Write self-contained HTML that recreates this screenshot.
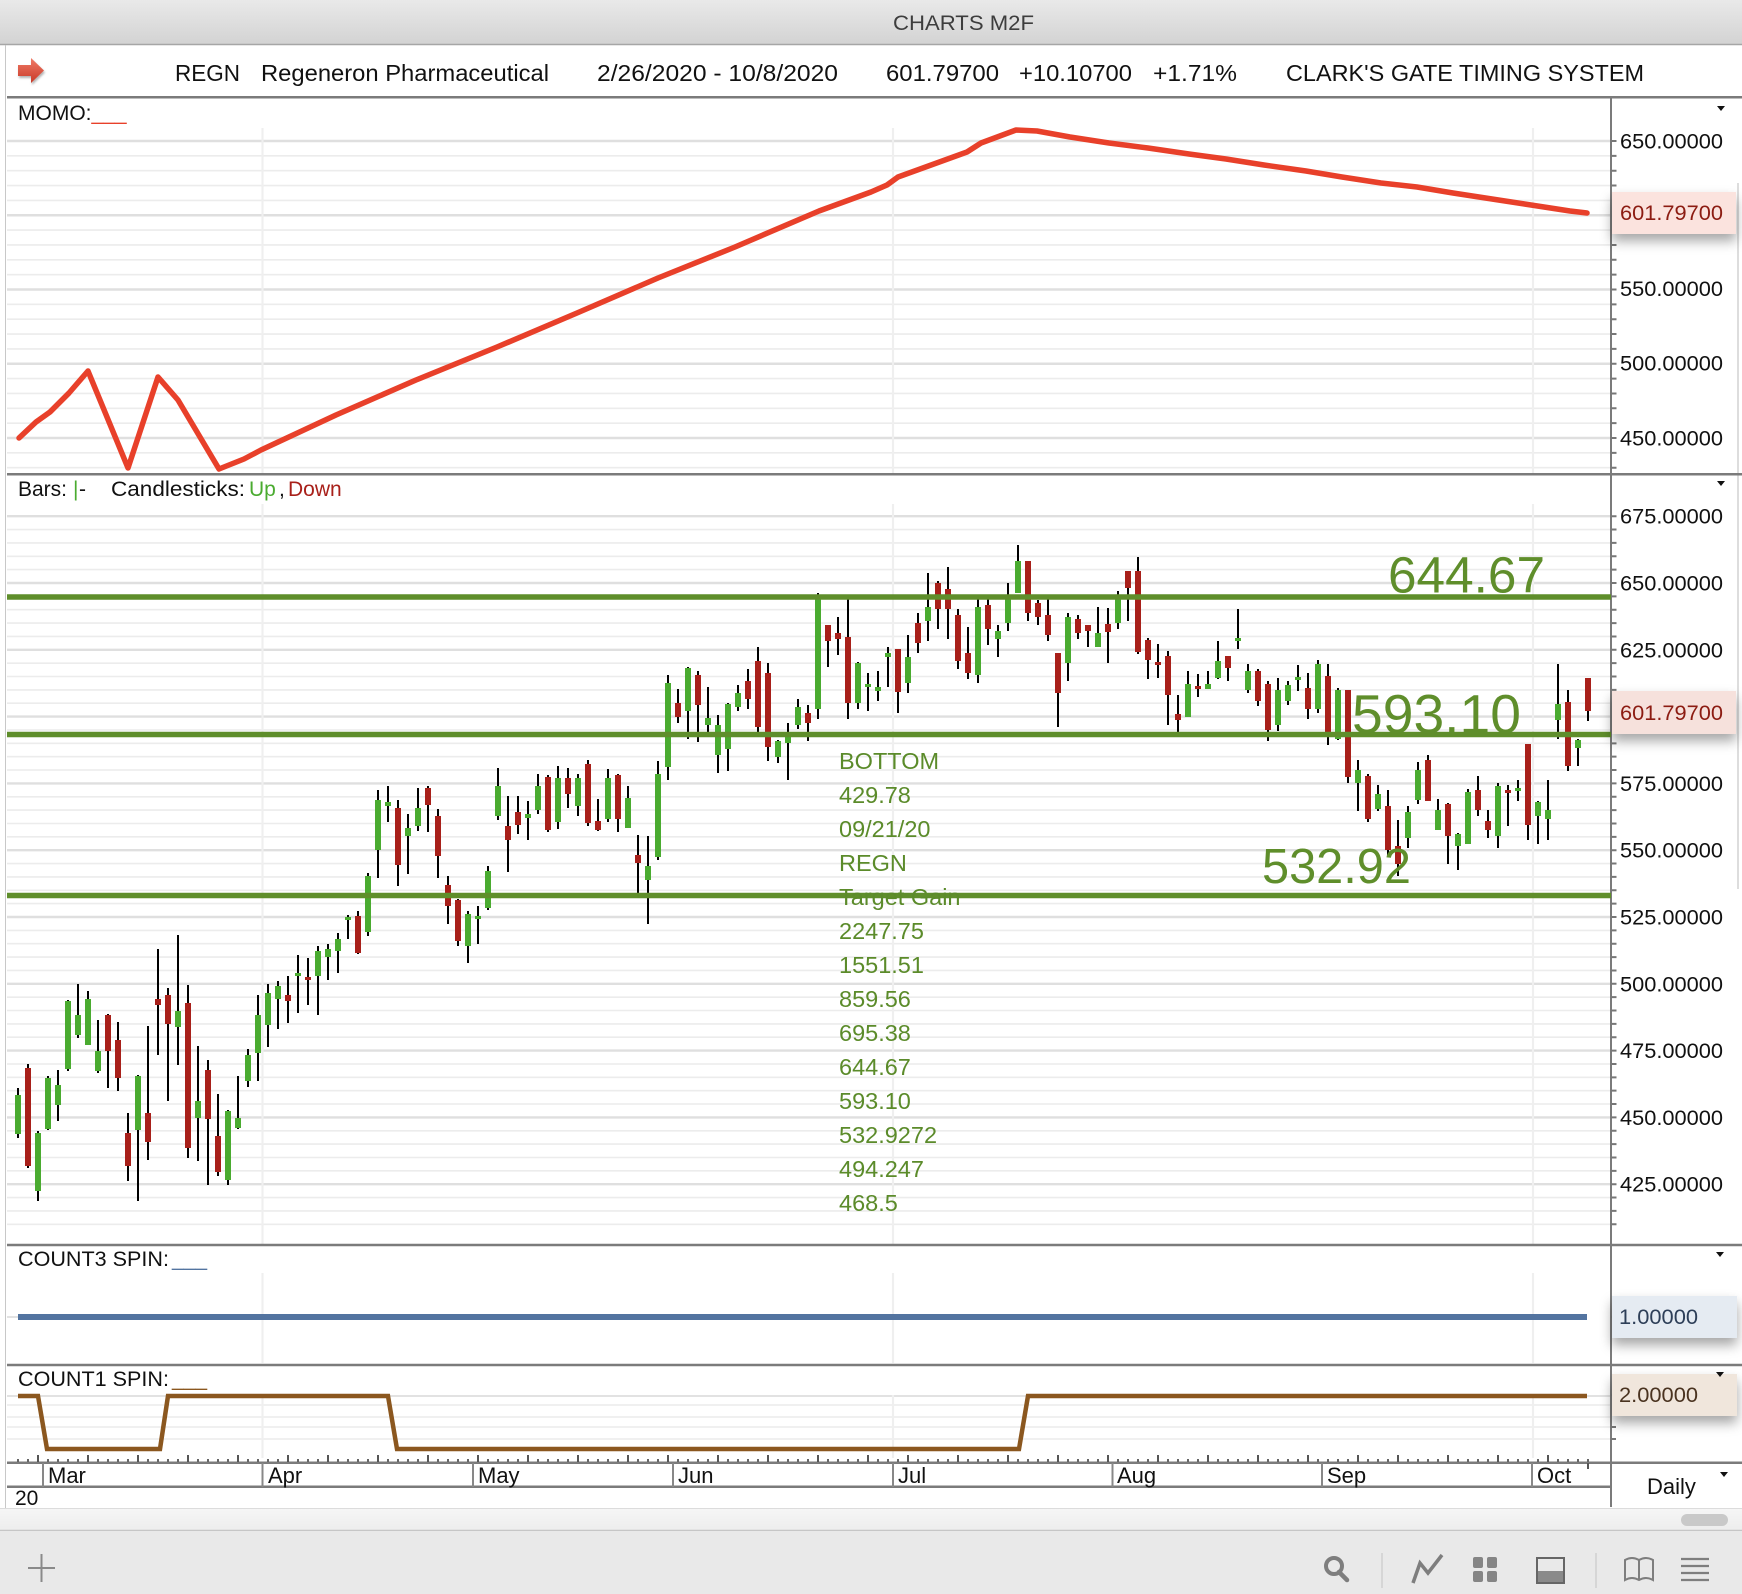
<!DOCTYPE html>
<html><head><meta charset="utf-8"><title>CHARTS M2F</title>
<style>
html,body{margin:0;padding:0;background:#fff;}
svg{display:block;}
text{font-family:"Liberation Sans",Arial,Helvetica,sans-serif;}
</style></head>
<body>
<svg xmlns="http://www.w3.org/2000/svg" width="1742" height="1594" viewBox="0 0 1742 1594">
<defs>
<linearGradient id="tb" x1="0" y1="0" x2="0" y2="1"><stop offset="0" stop-color="#e9e9e9"/><stop offset="1" stop-color="#d3d3d3"/></linearGradient>
<linearGradient id="arw" x1="0" y1="0" x2="0" y2="1"><stop offset="0" stop-color="#f07a66"/><stop offset="1" stop-color="#c83a28"/></linearGradient>
<linearGradient id="trk" x1="0" y1="0" x2="0" y2="1"><stop offset="0" stop-color="#f6f6f6"/><stop offset="1" stop-color="#ededed"/></linearGradient>
<filter id="sh" x="-10%" y="-40%" width="120%" height="220%"><feDropShadow dx="0" dy="7" stdDeviation="6" flood-color="#000" flood-opacity="0.35"/></filter>
<filter id="ash" x="-20%" y="-20%" width="150%" height="150%"><feDropShadow dx="1" dy="2" stdDeviation="1" flood-color="#000" flood-opacity="0.3"/></filter>
</defs>

<rect x="0" y="0" width="1742" height="1594" fill="#fff"/>

<!-- title bar -->
<rect x="0" y="0" width="1742" height="44" fill="url(#tb)"/>
<line x1="0" y1="44.5" x2="1742" y2="44.5" stroke="#a6a6a6" stroke-width="1.5"/>
<text x="893" y="30" font-size="21.5" fill="#3d3d3d" textLength="141" lengthAdjust="spacingAndGlyphs">CHARTS M2F</text>

<!-- left window edge -->
<line x1="5.5" y1="45" x2="5.5" y2="1508" stroke="#c8c8c8" stroke-width="1"/>
<line x1="1738" y1="183" x2="1738" y2="889" stroke="#d2d2d2" stroke-width="1.5"/>

<!-- header row -->
<polygon points="18,65 31,65 31,58 44,70.5 31,83 31,76 18,76" fill="url(#arw)" filter="url(#ash)"/>
<g font-size="23.5" fill="#111">
<text x="175" y="81" textLength="65" lengthAdjust="spacingAndGlyphs">REGN</text>
<text x="261" y="81" textLength="288" lengthAdjust="spacingAndGlyphs">Regeneron Pharmaceutical</text>
<text x="597" y="81" textLength="241" lengthAdjust="spacingAndGlyphs">2/26/2020 - 10/8/2020</text>
<text x="886" y="81" textLength="113" lengthAdjust="spacingAndGlyphs">601.79700</text>
<text x="1019" y="81" textLength="113" lengthAdjust="spacingAndGlyphs">+10.10700</text>
<text x="1153" y="81" textLength="84" lengthAdjust="spacingAndGlyphs">+1.71%</text>
<text x="1286" y="81" textLength="358" lengthAdjust="spacingAndGlyphs">CLARK'S GATE TIMING SYSTEM</text>
</g>

<!-- ===== gridlines ===== -->
<!-- momo minor -->
<path d="M7 155.85H1611M7 170.7H1611M7 185.55H1611M7 200.4H1611M7 230.1H1611M7 244.95H1611M7 259.8H1611M7 274.65H1611M7 304.35H1611M7 319.2H1611M7 334.05H1611M7 348.9H1611M7 378.6H1611M7 393.45H1611M7 408.3H1611M7 423.15H1611M7 452.85H1611M7 467.7H1611" stroke="#ececec" stroke-width="1.6" fill="none"/>
<path d="M7 141H1611M7 215.25H1611M7 289.5H1611M7 363.75H1611M7 438H1611" stroke="#dfdfdf" stroke-width="2.4" fill="none"/>
<!-- candle minor -->
<path d="M7 529.6H1611M7 542.9H1611M7 556.3H1611M7 569.6H1611M7 596.4H1611M7 609.7H1611M7 623.1H1611M7 636.4H1611M7 663.2H1611M7 676.5H1611M7 689.9H1611M7 703.2H1611M7 730H1611M7 743.3H1611M7 756.7H1611M7 770H1611M7 796.8H1611M7 810.1H1611M7 823.5H1611M7 836.8H1611M7 863.6H1611M7 876.9H1611M7 890.3H1611M7 903.6H1611M7 930.4H1611M7 943.7H1611M7 957.1H1611M7 970.4H1611M7 997.2H1611M7 1010.5H1611M7 1023.9H1611M7 1037.2H1611M7 1064H1611M7 1077.3H1611M7 1090.7H1611M7 1104H1611M7 1130.8H1611M7 1144.1H1611M7 1157.5H1611M7 1170.8H1611M7 1197.6H1611M7 1210.9H1611M7 1224.3H1611" stroke="#ececec" stroke-width="1.6" fill="none"/>
<path d="M7 516.2H1611M7 583H1611M7 649.8H1611M7 716.6H1611M7 783.4H1611M7 850.2H1611M7 917H1611M7 983.8H1611M7 1050.6H1611M7 1117.4H1611M7 1184.2H1611" stroke="#dfdfdf" stroke-width="2.4" fill="none"/>
<!-- count1 grid -->
<path d="M7 1405H1611M7 1417H1611M7 1427H1611M7 1439H1611" stroke="#ececec" stroke-width="1.6" fill="none"/>
<path d="M7 1396H1611M7 1317H18" stroke="#e2e2e2" stroke-width="2" fill="none"/>
<!-- vertical quarter grid -->
<path d="M262.5 128V473M893 128V473M1533 128V473M262.5 504V1244M893 504V1244M1533 504V1244M262.5 1273V1363M893 1273V1363M1533 1273V1363M262.5 1395V1458M893 1395V1458M1533 1395V1458" stroke="#efefef" stroke-width="2.2" fill="none"/>

<!-- ===== panel borders ===== -->
<g stroke="#7b7b7b" stroke-width="2.5" fill="none">
<path d="M7 97.2H1742"/>
<path d="M7 474.3H1742"/>
<path d="M7 1245H1742"/>
<path d="M7 1365H1742"/>
<path d="M7 1462.7H1742"/>
<path d="M7 1486.7H1611"/>
</g>
<line x1="1611" y1="98" x2="1611" y2="1507" stroke="#7b7b7b" stroke-width="2"/>
<!-- axis ticks -->
<line x1="1614" y1="140" x2="1614" y2="469" stroke="#777" stroke-width="5" stroke-dasharray="2 12.85"/>
<line x1="1614" y1="515.2" x2="1614" y2="1226" stroke="#777" stroke-width="5" stroke-dasharray="2 11.36"/>
<path d="M1611 1317h5M1611 1395h5M1611 1427h5M1611 1439h5" stroke="#777" stroke-width="2"/>

<!-- ===== MOMO ===== -->
<text x="18" y="120" font-size="21" fill="#111">MOMO:<tspan fill="#e8402a">___</tspan></text>
<path d="M19 438L36 422L50 412L69 393L88 371L128 468L158 377L178 400L219 469L244 459L261 450L336 415L416 380L497 347L577 313L658 278L735 247L819 211L871 192L887 185L898 177L967 152L981 143L1016 130L1037 131L1070 137L1109 143L1148 148L1189 154L1226 159L1264 165L1306 171L1342 177L1381 183L1417 187L1453 193L1492 199L1531 205L1570 211L1587 213" stroke="#e8402a" stroke-width="5.5" fill="none" stroke-linejoin="round" stroke-linecap="round"/>
<g font-size="21.5" fill="#111">
<text x="1620" y="148.5" textLength="103" lengthAdjust="spacingAndGlyphs">650.00000</text>
<text x="1620" y="296" textLength="103" lengthAdjust="spacingAndGlyphs">550.00000</text>
<text x="1620" y="370.5" textLength="103" lengthAdjust="spacingAndGlyphs">500.00000</text>
<text x="1620" y="445.5" textLength="103" lengthAdjust="spacingAndGlyphs">450.00000</text>
</g>
<rect x="1612" y="192" width="124" height="42" fill="#fbe3de" filter="url(#sh)"/>
<text x="1620" y="220" font-size="21.5" fill="#8c1c12" textLength="103" lengthAdjust="spacingAndGlyphs">601.79700</text>
<polygon points="1717,106 1725,106 1721,111" fill="#111"/>

<!-- ===== CANDLES ===== -->
<text x="18" y="496" font-size="21" fill="#111">Bars:</text>
<text x="73" y="496" font-size="21" fill="#4aab30">|</text>
<text x="79" y="496" font-size="21" fill="#111">-</text>
<text x="111" y="496" font-size="21" fill="#111" textLength="134" lengthAdjust="spacingAndGlyphs">Candlesticks:</text>
<text x="249" y="496" font-size="21" fill="#4aab30">Up</text>
<text x="279" y="496" font-size="21" fill="#111">,</text>
<text x="288" y="496" font-size="21" fill="#a8201a">Down</text>

<path stroke="#000" stroke-width="2" fill="none" d="M18 1088V1138M28 1064V1168M38 1131V1201M48 1076V1130M58 1070V1121M68 1000V1071M78 984V1038M88 991V1045M98 1020V1073M108 1014V1088M118 1022V1091M128 1113V1181M138 1075V1201M148 1026V1160M158 949V1055M168 988V1101M178 935V1065M188 985V1158M198 1046V1161M208 1060V1185M218 1094V1176M228 1110V1185M238 1076V1129M248 1049V1087M258 995V1081M268 984V1047M278 981V1029M288 976V1023M298 955V1013M308 958V1005M318 946V1015M328 944V980M338 933V973M348 915V939M358 911V954M368 873V936M378 790V878M388 786V822M398 800V886M408 814V874M418 788V831M428 786V832M438 809V878M448 876V924M458 899V946M468 911V963M478 906V944M488 866V910M498 768V820M508 796V872M518 796V834M528 801V840M538 774V814M548 775V832M558 766V829M568 768V808M578 774V816M588 760V826M598 799V831M608 769V822M618 774V832M628 786V828M638 835V893M648 836V924M658 761V860M668 675V780M678 689V723M688 667V739M698 671V742M708 687V732M718 715V773M728 703V771M738 685V711M748 669V709M758 647V732M768 663V761M778 740V763M788 723V780M798 699V729M808 705V741M818 593V719M828 625V667M838 617V655M848 598V719M858 662V709M868 673V711M878 671V701M888 647V687M898 649V713M908 635V693M918 613V653M928 573V641M938 581V629M948 567V639M958 609V669M968 627V679M978 599V683M988 599V645M998 625V657M1008 583V631M1018 545V593M1028 561V621M1038 600V625M1048 599V641M1058 653V727M1068 613V681M1078 615V639M1088 625V647M1098 607V647M1108 608V663M1118 591V629M1128 571V621M1138 557V654M1148 638V679M1158 644V678M1168 651V725M1178 695V732M1188 671V717M1198 674V697M1208 671V689M1218 641V679M1228 656V681M1238 609V649M1248 664V693M1258 669V706M1268 681V741M1278 678V731M1288 681V705M1298 665V691M1308 673V719M1318 660V713M1328 664V745M1338 688V740M1348 690V783M1358 760V811M1368 774V822M1378 785V811M1388 790V855M1398 820V876M1408 806V848M1418 762V804M1428 755V801M1438 799V830M1448 803V864M1458 833V870M1468 789V844M1478 776V816M1488 810V838M1498 783V848M1508 785V826M1518 780V801M1528 744V840M1538 801V844M1548 780V840M1558 664V739M1568 690V771M1578 739V766M1588 678V721"/>

<path fill="#4aab30" d="M15 1095h6V1134h-6zM35 1133h6V1191h-6zM45 1078h6V1129h-6zM55 1085h6V1105h-6zM65 1001h6V1069h-6zM75 1015h6V1035h-6zM85 999h6V1045h-6zM95 1051h6V1071h-6zM135 1076h6V1130h-6zM175 1011h6V1027h-6zM195 1101h6V1118h-6zM225 1111h6V1180h-6zM235 1118h6V1128h-6zM245 1055h6V1081h-6zM255 1015h6V1053h-6zM265 993h6V1025h-6zM275 986h6V999h-6zM295 973h6V976h-6zM315 951h6V976h-6zM325 949h6V957h-6zM335 939h6V951h-6zM345 917h6V920h-6zM365 876h6V932h-6zM375 800h6V850h-6zM385 802h6V806h-6zM405 828h6V836h-6zM415 808h6V826h-6zM465 914h6V946h-6zM475 916h6V919h-6zM485 871h6V908h-6zM495 786h6V816h-6zM525 814h6V818h-6zM535 786h6V810h-6zM555 778h6V822h-6zM575 778h6V806h-6zM605 778h6V819h-6zM625 798h6V828h-6zM645 866h6V880h-6zM655 774h6V857h-6zM665 683h6V767h-6zM685 668h6V711h-6zM705 718h6V725h-6zM715 725h6V755h-6zM725 704h6V749h-6zM735 693h6V707h-6zM775 741h6V757h-6zM785 737h6V743h-6zM795 707h6V725h-6zM815 597h6V709h-6zM855 663h6V703h-6zM865 684h6V687h-6zM875 687h6V691h-6zM885 653h6V657h-6zM905 657h6V683h-6zM925 607h6V621h-6zM975 607h6V675h-6zM995 631h6V639h-6zM1005 599h6V623h-6zM1015 561h6V593h-6zM1065 617h6V663h-6zM1095 633h6V647h-6zM1115 599h6V623h-6zM1185 684h6V717h-6zM1205 684h6V689h-6zM1215 661h6V678h-6zM1235 638h6V641h-6zM1245 671h6V690h-6zM1275 690h6V725h-6zM1285 685h6V701h-6zM1295 677h6V680h-6zM1315 664h6V709h-6zM1335 690h6V739h-6zM1355 770h6V783h-6zM1375 794h6V809h-6zM1405 812h6V838h-6zM1415 770h6V800h-6zM1435 810h6V830h-6zM1455 834h6V846h-6zM1465 792h6V844h-6zM1495 786h6V836h-6zM1515 788h6V791h-6zM1535 802h6V816h-6zM1545 810h6V819h-6zM1555 704h6V720h-6zM1575 740h6V748h-6z"/>

<path fill="#a8201a" d="M25 1068h6V1166h-6zM105 1015h6V1051h-6zM115 1040h6V1078h-6zM125 1133h6V1166h-6zM145 1113h6V1142h-6zM155 999h6V1005h-6zM165 995h6V1024h-6zM185 1003h6V1148h-6zM205 1070h6V1119h-6zM215 1136h6V1172h-6zM285 995h6V1001h-6zM305 977h6V980h-6zM355 916h6V953h-6zM395 808h6V865h-6zM425 788h6V805h-6zM435 816h6V856h-6zM445 885h6V906h-6zM455 900h6V941h-6zM505 826h6V840h-6zM515 812h6V825h-6zM545 777h6V830h-6zM565 778h6V794h-6zM585 764h6V823h-6zM595 821h6V830h-6zM615 775h6V819h-6zM635 855h6V863h-6zM675 703h6V717h-6zM695 675h6V705h-6zM745 681h6V699h-6zM755 661h6V727h-6zM765 673h6V747h-6zM805 713h6V723h-6zM825 625h6V641h-6zM835 633h6V639h-6zM845 637h6V703h-6zM895 649h6V692h-6zM915 623h6V643h-6zM935 583h6V609h-6zM945 589h6V609h-6zM955 615h6V661h-6zM965 653h6V673h-6zM985 605h6V629h-6zM1025 561h6V613h-6zM1035 603h6V617h-6zM1045 615h6V635h-6zM1055 653h6V693h-6zM1075 619h6V633h-6zM1085 625h6V631h-6zM1105 624h6V632h-6zM1125 571h6V588h-6zM1135 571h6V652h-6zM1145 640h6V660h-6zM1155 662h6V665h-6zM1165 656h6V695h-6zM1175 714h6V720h-6zM1195 686h6V689h-6zM1225 656h6V668h-6zM1255 671h6V701h-6zM1265 684h6V730h-6zM1305 688h6V709h-6zM1325 676h6V733h-6zM1345 690h6V777h-6zM1365 776h6V819h-6zM1385 806h6V850h-6zM1395 846h6V864h-6zM1425 760h6V801h-6zM1445 804h6V836h-6zM1475 790h6V810h-6zM1485 821h6V830h-6zM1505 790h6V793h-6zM1525 744h6V825h-6zM1565 702h6V766h-6zM1585 678h6V711h-6z"/>

<!-- level lines -->
<path d="M7 597H1611M7 734.5H1611M7 895.5H1611" stroke="#5f8e2b" stroke-width="5.5" fill="none"/>

<!-- level labels -->
<g fill="#5f8e2b">
<text x="1388" y="592.5" font-size="51" textLength="157" lengthAdjust="spacingAndGlyphs">644.67</text>
<text x="1352" y="733" font-size="55" textLength="169" lengthAdjust="spacingAndGlyphs">593.10</text>
<text x="1262" y="883" font-size="49" textLength="149" lengthAdjust="spacingAndGlyphs">532.92</text>
</g>
<g fill="#5b8b2a" font-size="23.5">
<text x="839" y="769">BOTTOM</text>
<text x="839" y="803">429.78</text>
<text x="839" y="837">09/21/20</text>
<text x="839" y="871">REGN</text>
<text x="839" y="905">Target Gain</text>
<text x="839" y="939">2247.75</text>
<text x="839" y="973">1551.51</text>
<text x="839" y="1007">859.56</text>
<text x="839" y="1041">695.38</text>
<text x="839" y="1075">644.67</text>
<text x="839" y="1109">593.10</text>
<text x="839" y="1143">532.9272</text>
<text x="839" y="1177">494.247</text>
<text x="839" y="1211">468.5</text>
</g>

<!-- candle axis labels -->
<g font-size="21.5" fill="#111">
<text x="1620" y="523.7" textLength="103" lengthAdjust="spacingAndGlyphs">675.00000</text>
<text x="1620" y="590.5" textLength="103" lengthAdjust="spacingAndGlyphs">650.00000</text>
<text x="1620" y="657.3" textLength="103" lengthAdjust="spacingAndGlyphs">625.00000</text>
<text x="1620" y="790.9" textLength="103" lengthAdjust="spacingAndGlyphs">575.00000</text>
<text x="1620" y="857.7" textLength="103" lengthAdjust="spacingAndGlyphs">550.00000</text>
<text x="1620" y="924.5" textLength="103" lengthAdjust="spacingAndGlyphs">525.00000</text>
<text x="1620" y="991.3" textLength="103" lengthAdjust="spacingAndGlyphs">500.00000</text>
<text x="1620" y="1058.1" textLength="103" lengthAdjust="spacingAndGlyphs">475.00000</text>
<text x="1620" y="1124.9" textLength="103" lengthAdjust="spacingAndGlyphs">450.00000</text>
<text x="1620" y="1191.7" textLength="103" lengthAdjust="spacingAndGlyphs">425.00000</text>
</g>
<rect x="1612" y="691" width="124" height="43" fill="#f6e1dc" filter="url(#sh)"/>
<text x="1620" y="720" font-size="21.5" fill="#8c1c12" textLength="103" lengthAdjust="spacingAndGlyphs">601.79700</text>
<polygon points="1717,481 1725,481 1721,486" fill="#111"/>

<!-- ===== COUNT3 ===== -->
<text x="18" y="1266" font-size="21" fill="#111" textLength="151" lengthAdjust="spacingAndGlyphs">COUNT3 SPIN:</text>
<text x="172" y="1266" font-size="21" fill="#5374a0">___</text>
<path d="M18 1317H1587" stroke="#5374a0" stroke-width="6" fill="none"/>
<rect x="1612" y="1296" width="125" height="42" fill="#e5ebf2" filter="url(#sh)"/>
<text x="1619" y="1324" font-size="21.5" fill="#2e3f58" textLength="79" lengthAdjust="spacingAndGlyphs">1.00000</text>
<polygon points="1716,1252 1724,1252 1720,1257" fill="#111"/>

<!-- ===== COUNT1 ===== -->
<text x="18" y="1386" font-size="21" fill="#111" textLength="151" lengthAdjust="spacingAndGlyphs">COUNT1 SPIN:</text>
<text x="172" y="1386" font-size="21" fill="#8b571f">___</text>
<path d="M18 1396H38L47 1449H160L168 1396H388L397 1449H1019L1028 1396H1587" stroke="#8b571f" stroke-width="4.5" fill="none" stroke-linejoin="miter"/>
<rect x="1612" y="1374" width="125" height="42" fill="#f0e6dc" filter="url(#sh)"/>
<text x="1619" y="1402" font-size="21.5" fill="#4a3320" textLength="79" lengthAdjust="spacingAndGlyphs">2.00000</text>
<polygon points="1716,1372 1724,1372 1720,1377" fill="#111"/>

<!-- ===== date axis ===== -->
<line x1="17" y1="1460.5" x2="1590" y2="1460.5" stroke="#666" stroke-width="3" stroke-dasharray="2 8"/>
<path d="M38 1455V1462M88 1455V1462M138 1455V1462M188 1455V1462M238 1455V1462M288 1455V1462M328 1455V1462M378 1455V1462M428 1455V1462M478 1455V1462M528 1455V1462M578 1455V1462M628 1455V1462M668 1455V1462M718 1455V1462M768 1455V1462M818 1455V1462M868 1455V1462M908 1455V1462M958 1455V1462M1008 1455V1462M1058 1455V1462M1108 1455V1462M1158 1455V1462M1208 1455V1462M1258 1455V1462M1308 1455V1462M1358 1455V1462M1398 1455V1462M1448 1455V1462M1498 1455V1462M1548 1455V1462M1588 1463V1469" stroke="#555" stroke-width="2" fill="none"/>
<path d="M43 1463V1487M262.5 1463V1487M473 1463V1487M673 1463V1487M893 1463V1487M1112.5 1463V1487M1322 1463V1487M1532 1463V1487" stroke="#888" stroke-width="2" fill="none"/>
<g font-size="22" fill="#111">
<text x="48" y="1483">Mar</text>
<text x="268" y="1483">Apr</text>
<text x="478" y="1483">May</text>
<text x="678" y="1483">Jun</text>
<text x="898" y="1483">Jul</text>
<text x="1117" y="1483">Aug</text>
<text x="1327" y="1483">Sep</text>
<text x="1537" y="1483">Oct</text>
<text x="15" y="1505" font-size="21">20</text>
<text x="1647" y="1494">Daily</text>
</g>
<polygon points="1720,1472 1728,1472 1724,1477" fill="#111"/>

<!-- scroll track -->
<rect x="0" y="1508" width="1742" height="22" fill="url(#trk)"/>
<line x1="0" y1="1508.5" x2="1742" y2="1508.5" stroke="#dcdcdc" stroke-width="1"/>
<rect x="1681" y="1514" width="47" height="12" rx="6" fill="#c9c9c9"/>
<line x1="0" y1="1530.5" x2="1742" y2="1530.5" stroke="#c6c6c6" stroke-width="1.5"/>

<!-- toolbar -->
<rect x="0" y="1531" width="1742" height="63" fill="#e9e9e9"/>
<path d="M28 1568H55M41.5 1554V1582" stroke="#8a8a8a" stroke-width="2" fill="none"/>
<g fill="none" stroke="#7e7e7e">
<circle cx="1334" cy="1566" r="8" stroke-width="4"/>
<path d="M1339 1572L1347 1580" stroke-width="4.5" stroke-linecap="round"/>
<path d="M1382 1553V1588M1596 1553V1588" stroke="#cfcfcf" stroke-width="1.5"/>
<path d="M1413 1583L1420 1563L1428 1573L1442 1555" stroke-width="3.5" stroke-linejoin="miter"/>
<rect x="1537" y="1558" width="27" height="25" stroke="#666" stroke-width="2"/>
<path d="M1625 1560Q1632 1556 1639 1560Q1646 1556 1653 1560V1580Q1646 1576 1639 1580Q1632 1576 1625 1580ZM1639 1560V1580" stroke-width="2"/>
<path d="M1681 1559H1709M1681 1566H1709M1681 1573H1709M1681 1580H1709" stroke-width="2.2"/>
</g>
<rect x="1538" y="1571" width="25" height="11" fill="#8a8a8a"/>
<g fill="#858585">
<rect x="1473" y="1557" width="10" height="11" rx="2"/>
<rect x="1487" y="1557" width="10" height="11" rx="2"/>
<rect x="1473" y="1571" width="10" height="11" rx="2"/>
<rect x="1487" y="1571" width="10" height="11" rx="2"/>
</g>
</svg>
</body></html>
